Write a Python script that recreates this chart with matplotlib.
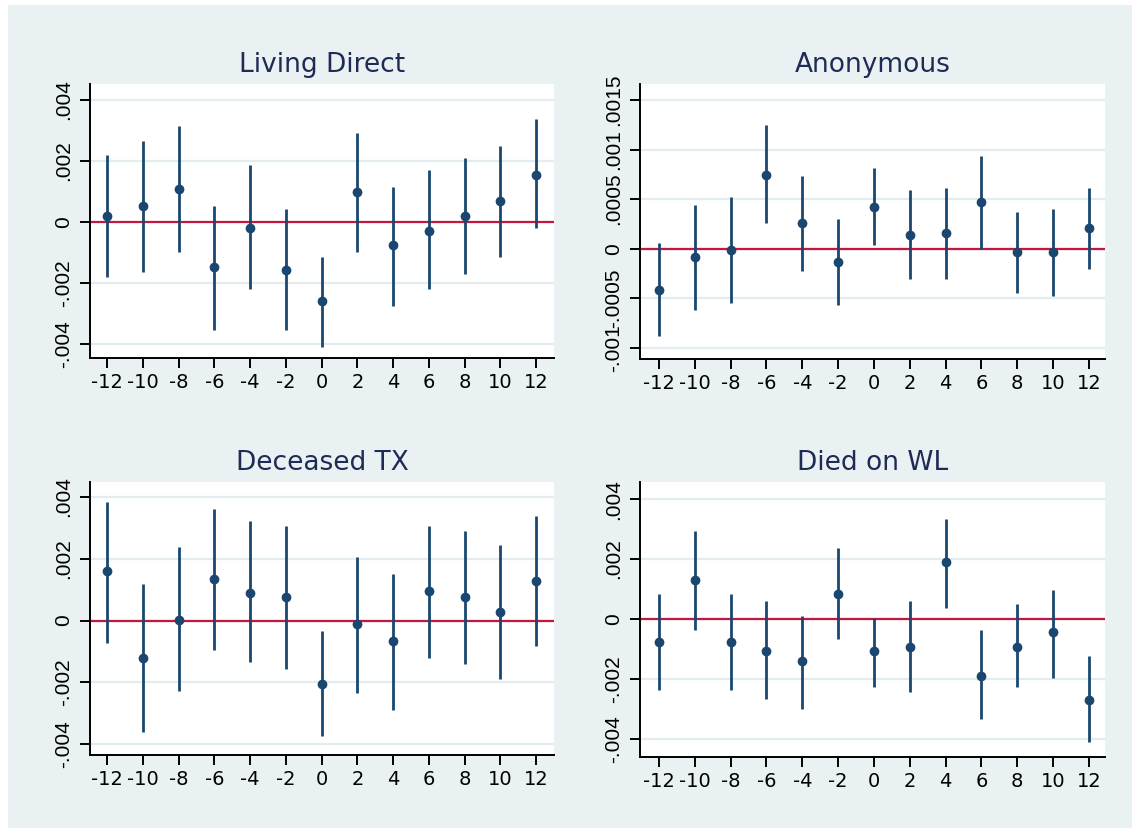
import numpy as np
import matplotlib
matplotlib.use("Agg")
import matplotlib.pyplot as plt
from matplotlib.patches import Rectangle

plt.rcParams["font.family"] = ["Liberation Sans", "DejaVu Sans"]

# ── Data (event time, point estimate, CI low, CI high) ───────────────────────
event_time = [-12, -10, -8, -6, -4, -2, 0, 2, 4, 6, 8, 10, 12]

living_est = [0.00019, 0.00052, 0.00107, -0.00149, -0.00021, -0.00156, -0.00260,
              0.00098, -0.00077, -0.00029, 0.00019, 0.00067, 0.00155]
living_lo  = [-0.00180, -0.00164, -0.00099, -0.00355, -0.00220, -0.00355, -0.00410,
              -0.00099, -0.00276, -0.00220, -0.00171, -0.00116, -0.00021]
living_hi  = [0.00218, 0.00265, 0.00314, 0.00051, 0.00187, 0.00041, -0.00116,
              0.00290, 0.00115, 0.00170, 0.00210, 0.00250, 0.00337]

anon_est = [-0.000420, -0.000084, -0.000010, 0.000742, 0.000258, -0.000131, 0.000426,
            0.000134, 0.000158, 0.000473, -0.000030, -0.000030, 0.000208]
anon_lo  = [-0.000876, -0.000614, -0.000544, 0.000258, -0.000228, -0.000564, 0.000037,
            -0.000302, -0.000302, 0.000000, -0.000446, -0.000473, -0.000205]
anon_hi  = [0.000057, 0.000446, 0.000520, 0.001245, 0.000735, 0.000299, 0.000809,
            0.000591, 0.000617, 0.000930, 0.000372, 0.000396, 0.000617]

dec_est = [0.00159, -0.00120, 0.00003, 0.00135, 0.00089, 0.00075, -0.00206,
           -0.00010, -0.00067, 0.00097, 0.00075, 0.00028, 0.00127]
dec_lo  = [-0.00072, -0.00360, -0.00228, -0.00096, -0.00134, -0.00158, -0.00375,
           -0.00235, -0.00289, -0.00120, -0.00142, -0.00190, -0.00081]
dec_hi  = [0.00383, 0.00119, 0.00237, 0.00360, 0.00323, 0.00305, -0.00034,
           0.00205, 0.00152, 0.00305, 0.00290, 0.00244, 0.00337]

wl_est = [-0.00076, 0.00131, -0.00076, -0.00108, -0.00139, 0.00084, -0.00108,
          -0.00092, 0.00189, -0.00189, -0.00092, -0.00043, -0.00269]
wl_lo  = [-0.00236, -0.00036, -0.00236, -0.00267, -0.00300, -0.00067, -0.00228,
          -0.00243, 0.00037, -0.00332, -0.00228, -0.00197, -0.00411]
wl_hi  = [0.00084, 0.00292, 0.00084, 0.00059, 0.00011, 0.00237, 0.00003,
          0.00059, 0.00333, -0.00036, 0.00051, 0.00098, -0.00124]

titles = ["Living Direct", "Anonymous", "Deceased TX", "Died on WL"]

yticks_004 = [-0.004, -0.002, 0, 0.002, 0.004]
ylabels_004 = ["-.004", "-.002", "0", ".002", ".004"]
yticks_anon = [-0.001, -0.0005, 0, 0.0005, 0.001, 0.0015]
ylabels_anon = ["-.001", "-.0005", "0", ".0005", ".001", ".0015"]

# ── Style ─────────────────────────────────────────────────────────────────────
BG = "#e9f1f3"
GRID = "#e3edf0"
NAVY = "#1a476f"
RED = "#c4163f"
TITLE_C = "#1f2a55"
WIDE = ["DejaVu Sans"]           # wider face for horizontal text (stretched look)
NARROW = ["Liberation Sans"]     # rotated y labels

W, H = 1140, 833
fig = plt.figure(figsize=(W / 100, H / 100), dpi=100, facecolor="white")
fig.patches.append(Rectangle((8 / W, 5 / H), 1 - 16 / W, 1 - 10 / H,
                             transform=fig.transFigure, facecolor=BG,
                             edgecolor="none", zorder=-10))

def box(l, r, t, b):
    return [l / W, 1 - b / H, (r - l) / W, (b - t) / H]

panels = [
    (box(90, 554, 84, 358), living_est, living_lo, living_hi, yticks_004, ylabels_004,
     (-12.95, 13.0), (-0.00446, 0.00452)),
    (box(640, 1105, 84, 359), anon_est, anon_lo, anon_hi, yticks_anon, ylabels_anon,
     (-13.06, 12.9), (-0.00111, 0.00166)),
    (box(90, 554, 482, 755), dec_est, dec_lo, dec_hi, yticks_004, ylabels_004,
     (-12.95, 13.0), (-0.004356, 0.004486)),
    (box(640, 1105, 482, 757), wl_est, wl_lo, wl_hi, yticks_004, ylabels_004,
     (-13.06, 12.9), (-0.0046, 0.00457)),
]

for title, (rect, est, lo, hi, yt, yl, xlim, ylim) in zip(titles, panels):
    ax = fig.add_axes(rect)
    ax.set_facecolor("white")
    for y in yt:
        ax.axhline(y, color=GRID, lw=1.6, zorder=0)
    ax.axhline(0, color=RED, lw=1.6, zorder=2)
    ax.vlines(event_time, lo, hi, color=NAVY, lw=2.0, zorder=3)
    ax.plot(event_time, est, "o", color=NAVY, ms=6, zorder=4)

    ax.set_xlim(*xlim)
    ax.set_ylim(*ylim)
    ax.set_xticks(event_time)
    ax.set_xticklabels([str(v) for v in event_time], family=WIDE, fontsize=14)
    ax.set_yticks(yt)
    ax.set_yticklabels(yl, rotation=90, va="center", family=NARROW, fontsize=15)

    for s in ("top", "right"):
        ax.spines[s].set_visible(False)
    for s in ("left", "bottom"):
        ax.spines[s].set_linewidth(1.4)
        ax.spines[s].set_color("black")
    ax.tick_params(axis="both", direction="out", length=7, width=1.4, colors="black")
    ax.tick_params(axis="x", pad=4)
    ax.tick_params(axis="y", pad=5)
    ax.set_title(title, fontsize=19, color=TITLE_C, pad=9, family=WIDE)

fig.savefig("out.png", dpi=100, facecolor=fig.get_facecolor())
